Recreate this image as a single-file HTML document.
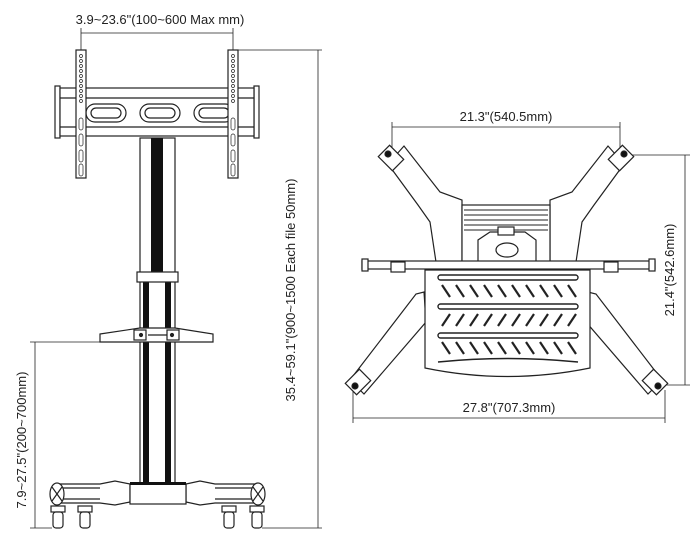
<!DOCTYPE html>
<html><head><style>
html,body{margin:0;padding:0;background:#fff;}
svg{display:block;}
text{font-family:"Liberation Sans",sans-serif;fill:#222;font-size:13px;}
</style></head><body>
<svg width="700" height="546" viewBox="0 0 700 546" xmlns="http://www.w3.org/2000/svg">
<g stroke="#222" fill="none" stroke-width="1.2">
<!-- LEFT VIEW -->
<line x1="81" y1="33" x2="233" y2="33" stroke-width="0.8"/>
<line x1="81" y1="28" x2="81" y2="50" stroke-width="0.8"/>
<line x1="233" y1="28" x2="233" y2="50" stroke-width="0.8"/>
<rect x="55" y="86" width="5" height="52" fill="#fff"/>
<rect x="254" y="86" width="5" height="52" fill="#fff"/>
<rect x="60" y="88" width="194" height="48" fill="#fff"/>
<line x1="60" y1="98" x2="254" y2="98"/>
<line x1="60" y1="127" x2="254" y2="127"/>
<rect x="86" y="104" width="40" height="18" rx="9"/><rect x="91" y="108" width="30" height="10" rx="5"/>
<rect x="140" y="104" width="40" height="18" rx="9"/><rect x="145" y="108" width="30" height="10" rx="5"/>
<rect x="194" y="104" width="40" height="18" rx="9"/><rect x="199" y="108" width="30" height="10" rx="5"/>
<rect x="76" y="50" width="10" height="128" fill="#fff"/>
<rect x="228" y="50" width="10" height="128" fill="#fff"/>
<g fill="#fff" stroke-width="0.7">
<circle cx="81" cy="56" r="1.5"/><circle cx="81" cy="61" r="1.5"/><circle cx="81" cy="66" r="1.5"/><circle cx="81" cy="71" r="1.5"/><circle cx="81" cy="76" r="1.5"/><circle cx="81" cy="81" r="1.5"/><circle cx="81" cy="86" r="1.5"/><circle cx="81" cy="91" r="1.5"/><circle cx="81" cy="96" r="1.5"/><circle cx="81" cy="101" r="1.5"/>
<circle cx="233" cy="56" r="1.5"/><circle cx="233" cy="61" r="1.5"/><circle cx="233" cy="66" r="1.5"/><circle cx="233" cy="71" r="1.5"/><circle cx="233" cy="76" r="1.5"/><circle cx="233" cy="81" r="1.5"/><circle cx="233" cy="86" r="1.5"/><circle cx="233" cy="91" r="1.5"/><circle cx="233" cy="96" r="1.5"/><circle cx="233" cy="101" r="1.5"/>
<rect x="79" y="118" width="4" height="12" rx="2"/><rect x="79" y="134" width="4" height="12" rx="2"/><rect x="79" y="150" width="4" height="12" rx="2"/><rect x="79" y="164" width="4" height="12" rx="2"/>
<rect x="231" y="118" width="4" height="12" rx="2"/><rect x="231" y="134" width="4" height="12" rx="2"/><rect x="231" y="150" width="4" height="12" rx="2"/><rect x="231" y="164" width="4" height="12" rx="2"/>
</g>
<rect x="140" y="138" width="35" height="346" fill="#fff"/>
<rect x="151" y="138" width="12" height="134" fill="#111" stroke="none"/>
<rect x="143" y="282" width="6" height="200" fill="#111" stroke="none"/>
<rect x="165" y="282" width="6" height="200" fill="#111" stroke="none"/>
<rect x="137" y="272" width="41" height="10" fill="#fff"/>
<path d="M100 334 L140 328 L175 328 L213 334 L213 342 L100 342 Z" fill="#fff"/>
<rect x="134" y="330" width="12" height="10" fill="#fff"/><rect x="167" y="330" width="12" height="10" fill="#fff"/>
<circle cx="141" cy="335" r="1.5" fill="#222"/><circle cx="172" cy="335" r="1.5" fill="#222"/>
<line x1="148" y1="335" x2="167" y2="335"/>
<path d="M60 484 L100 484 L115 481 L130 484 L130 502 L115 505 L100 503 L60 503 Z" fill="#fff"/>
<path d="M255 484 L215 484 L200 481 L186 484 L186 502 L200 505 L215 503 L255 503 Z" fill="#fff"/>
<line x1="60" y1="488" x2="100" y2="488"/><line x1="60" y1="499" x2="100" y2="499"/>
<line x1="215" y1="488" x2="255" y2="488"/><line x1="215" y1="499" x2="255" y2="499"/>
<rect x="130" y="484" width="56" height="20" fill="#fff"/>
<rect x="130" y="482" width="56" height="3" fill="#111" stroke="none"/>
<ellipse cx="57" cy="494" rx="7" ry="11" fill="#fff"/>
<ellipse cx="258" cy="494" rx="7" ry="11" fill="#fff"/>
<line x1="52" y1="487" x2="62" y2="501"/><line x1="62" y1="487" x2="52" y2="501"/>
<line x1="253" y1="487" x2="263" y2="501"/><line x1="263" y1="487" x2="253" y2="501"/>
<g fill="#fff">
<rect x="51" y="506" width="14" height="6"/><rect x="53" y="512" width="10" height="16" rx="3"/>
<rect x="78" y="506" width="14" height="6"/><rect x="80" y="512" width="10" height="16" rx="3"/>
<rect x="222" y="506" width="14" height="6"/><rect x="224" y="512" width="10" height="16" rx="3"/>
<rect x="250" y="506" width="14" height="6"/><rect x="252" y="512" width="10" height="16" rx="3"/>
</g>
<g stroke-width="0.8">
<line x1="236" y1="50" x2="322" y2="50"/>
<line x1="262" y1="528" x2="322" y2="528"/>
<line x1="318" y1="50" x2="318" y2="528"/>
<line x1="30" y1="342" x2="100" y2="342"/>
<line x1="30" y1="528" x2="52" y2="528"/>
<line x1="35" y1="342" x2="35" y2="528"/>
</g>
<!-- RIGHT VIEW -->
<g stroke-width="0.8">
<line x1="392" y1="127" x2="620" y2="127"/>
<line x1="392" y1="122" x2="392" y2="152"/>
<line x1="620" y1="122" x2="620" y2="152"/>
<line x1="625" y1="155" x2="690" y2="155"/>
<line x1="655" y1="385" x2="690" y2="385"/>
<line x1="685" y1="155" x2="685" y2="385"/>
<line x1="353" y1="418" x2="665" y2="418"/>
<line x1="353" y1="390" x2="353" y2="423"/>
<line x1="665" y1="390" x2="665" y2="423"/>
</g>
<g fill="#fff">
<path d="M388 164 L404 146 L440 192 L462 200 L462 262 L436 262 L430 222 L418 205 Z"/>
<path d="M624 164 L608 146 L572 192 L550 200 L550 262 L576 262 L582 222 L594 205 Z"/>
<path d="M350 380 L364 394 L426 322 L424 292 L416 294 Z"/>
<path d="M662 380 L648 394 L586 322 L588 292 L596 294 Z"/>
<rect x="383" y="148" width="16" height="20" transform="rotate(-45 391 158)"/>
<rect x="613" y="148" width="16" height="20" transform="rotate(45 621 158)"/>
<rect x="350" y="372" width="16" height="20" transform="rotate(45 358 382)"/>
<rect x="647" y="372" width="16" height="20" transform="rotate(-45 655 382)"/>
<rect x="462" y="205" width="88" height="57"/>
</g>
<circle cx="388" cy="154" r="3" fill="#111"/><circle cx="624" cy="154" r="3" fill="#111"/>
<circle cx="355" cy="386" r="3" fill="#111"/><circle cx="658" cy="386" r="3" fill="#111"/>
<g stroke-width="1">
<line x1="464" y1="210" x2="548" y2="210"/><line x1="464" y1="215" x2="548" y2="215"/><line x1="464" y1="220" x2="548" y2="220"/><line x1="464" y1="225" x2="548" y2="225"/><line x1="464" y1="230" x2="548" y2="230"/>
</g>
<path d="M478 262 L478 240 L490 232 L525 232 L536 240 L536 262" fill="#fff"/>
<rect x="498" y="227" width="16" height="8" fill="#fff"/>
<ellipse cx="507" cy="250" rx="11" ry="7"/>
<rect x="362" y="261" width="293" height="8" fill="#fff"/>
<rect x="362" y="259" width="6" height="12" fill="#fff"/><rect x="649" y="259" width="6" height="12" fill="#fff"/>
<rect x="391" y="262" width="14" height="10" fill="#fff"/><rect x="604" y="262" width="14" height="10" fill="#fff"/>
<path d="M425 270 L590 270 L590 368 Q507 385 425 368 Z" fill="#fff"/>
<g stroke-width="1.4">
<rect x="438" y="275" width="140" height="5" rx="2.5"/>
<rect x="438" y="304" width="140" height="5" rx="2.5"/>
<rect x="438" y="333" width="140" height="5" rx="2.5"/>
<path d="M438 362 Q507 355 578 362"/>
</g>
<g stroke-width="2.2">
<line x1="442" y1="285" x2="450" y2="297"/><line x1="456" y1="285" x2="464" y2="297"/><line x1="470" y1="285" x2="478" y2="297"/><line x1="484" y1="285" x2="492" y2="297"/><line x1="498" y1="285" x2="506" y2="297"/><line x1="512" y1="285" x2="520" y2="297"/><line x1="526" y1="285" x2="534" y2="297"/><line x1="540" y1="285" x2="548" y2="297"/><line x1="554" y1="285" x2="562" y2="297"/><line x1="568" y1="285" x2="576" y2="297"/>
<line x1="450" y1="314" x2="442" y2="326"/><line x1="464" y1="314" x2="456" y2="326"/><line x1="478" y1="314" x2="470" y2="326"/><line x1="492" y1="314" x2="484" y2="326"/><line x1="506" y1="314" x2="498" y2="326"/><line x1="520" y1="314" x2="512" y2="326"/><line x1="534" y1="314" x2="526" y2="326"/><line x1="548" y1="314" x2="540" y2="326"/><line x1="562" y1="314" x2="554" y2="326"/><line x1="576" y1="314" x2="568" y2="326"/>
<line x1="442" y1="342" x2="450" y2="354"/><line x1="456" y1="342" x2="464" y2="354"/><line x1="470" y1="342" x2="478" y2="354"/><line x1="484" y1="342" x2="492" y2="354"/><line x1="498" y1="342" x2="506" y2="354"/><line x1="512" y1="342" x2="520" y2="354"/><line x1="526" y1="342" x2="534" y2="354"/><line x1="540" y1="342" x2="548" y2="354"/><line x1="554" y1="342" x2="562" y2="354"/><line x1="568" y1="342" x2="576" y2="354"/>
</g>
</g>
<text x="160" y="24" text-anchor="middle">3.9~23.6"(100~600 Max mm)</text>
<text transform="translate(295 290) rotate(-90)" text-anchor="middle">35.4~59.1"(900~1500 Each file 50mm)</text>
<text transform="translate(26 440) rotate(-90)" text-anchor="middle">7.9~27.5"(200~700mm)</text>
<text x="506" y="121" text-anchor="middle">21.3"(540.5mm)</text>
<text transform="translate(674 270) rotate(-90)" text-anchor="middle">21.4"(542.6mm)</text>
<text x="509" y="412" text-anchor="middle">27.8"(707.3mm)</text>
</svg>
</body></html>
